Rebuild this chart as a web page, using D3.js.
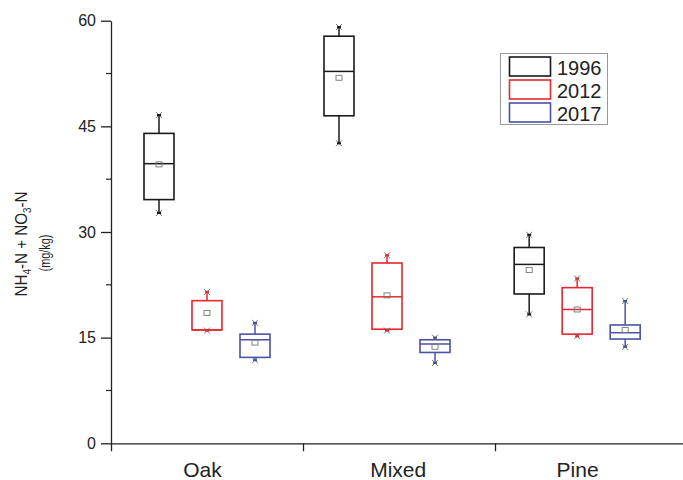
<!DOCTYPE html>
<html>
<head>
<meta charset="utf-8">
<script src="https://cdn.jsdelivr.net/npm/d3@7"></script>
<style>
  html, body { margin: 0; padding: 0; background: #fff; }
  svg { display: block; }
  text { font-family: "Liberation Sans", Arial, sans-serif; fill: #222; }
</style>
</head>
<body>
<svg id="chart" width="683" height="480"></svg>
<script>
// ---- data ----
const categories = ["Oak", "Mixed", "Pine"];
const years = ["1996", "2012", "2017"];
const yTickValues = [0, 15, 30, 45, 60];
// rows: years (1996, 2012, 2017); columns: categories (Oak, Mixed, Pine)
const minVals  = [[32.7, 42.6, 18.3], [16.0, 16.0, 15.2], [11.8, 11.4, 13.7]];
const q1Vals   = [[34.6, 46.5, 21.2], [16.1, 16.2, 15.5], [12.2, 12.9, 14.8]];
const medVals  = [[39.7, 52.8, 25.4], [16.1, 20.8, 19.0], [14.7, 14.1, 15.7]];
const q3Vals   = [[44.0, 57.8, 27.8], [20.25, 25.6, 22.1], [15.5, 14.7, 16.8]];
const maxVals  = [[46.6, 59.1, 29.6], [21.5, 26.7, 23.4], [17.1, 15.0, 20.2]];
const meanVals = [[39.6, 51.9, 24.6], [18.5, 21.0, 19.0], [14.3, 13.7, 16.1]];

// ---- layout (not data) ----
const groupPos = [1.0, 1.9375, 2.928];   // box-group centres on x axis (units)
const labelPos = [0.976, 1.996, 2.93];   // category label centres
const yearOffset = [-0.25, 0, 0.25];
const colors = ["#1a1a1a", "#e8262d", "#4a52a8"];
const boxW = 30;

const svg = d3.select("#chart");

const x = d3.scaleLinear().domain([0.5, 3.5]).range([111, 687]);
const y = d3.scaleLinear().domain([0, 60]).range([443.3, 20.7]);

// ---- axes ----
const yAxis = d3.axisLeft(y).tickValues(yTickValues).tickSize(10).tickPadding(5).tickSizeOuter(0);
const gy = svg.append("g").attr("transform", `translate(${x(0.5)},0)`).call(yAxis);
gy.select(".domain").attr("stroke", "#222").attr("stroke-width", 1.3);
gy.selectAll(".tick line").attr("stroke", "#222").attr("stroke-width", 1.3);
gy.selectAll(".tick text").style("font-size", "16px").attr("fill", "#222");
// minor ticks
gy.selectAll(".minor").data([7.5, 22.5, 37.5, 52.5]).enter().append("line")
  .attr("x1", -5).attr("x2", 0)
  .attr("y1", d => y(d)).attr("y2", d => y(d))
  .attr("stroke", "#222").attr("stroke-width", 1.2);

const xAxis = d3.axisBottom(x).tickValues([0.5, 1.5, 2.5, 3.5]).tickSize(8).tickSizeOuter(0).tickFormat("");
const gx = svg.append("g").attr("transform", `translate(0,${y(0)})`).call(xAxis);
gx.select(".domain").attr("stroke", "#222").attr("stroke-width", 1.3);
gx.selectAll(".tick line").attr("stroke", "#222").attr("stroke-width", 1.3);

// category labels
svg.selectAll(".cat").data(categories).enter().append("text")
  .attr("x", (d, i) => x(labelPos[i]))
  .attr("y", 477)
  .attr("text-anchor", "middle")
  .style("font-size", "21px")
  .text(d => d);

// ---- boxes ----
years.forEach((yr, yi) => {
  const g = svg.append("g");
  const col = colors[yi];
  categories.forEach((cat, ci) => {
    const cx = x(groupPos[ci] + yearOffset[yi]);
    // whiskers
    g.append("line").attr("x1", cx).attr("x2", cx)
      .attr("y1", y(q3Vals[yi][ci])).attr("y2", y(maxVals[yi][ci]))
      .attr("stroke", col).attr("stroke-width", 1.5);
    g.append("line").attr("x1", cx).attr("x2", cx)
      .attr("y1", y(q1Vals[yi][ci])).attr("y2", y(minVals[yi][ci]))
      .attr("stroke", col).attr("stroke-width", 1.5);
    // box
    g.append("rect")
      .attr("x", cx - boxW / 2).attr("width", boxW)
      .attr("y", y(q3Vals[yi][ci]))
      .attr("height", y(q1Vals[yi][ci]) - y(q3Vals[yi][ci]))
      .attr("fill", "none").attr("stroke", col).attr("stroke-width", 1.6);
    // median
    g.append("line")
      .attr("x1", cx - boxW / 2).attr("x2", cx + boxW / 2)
      .attr("y1", y(medVals[yi][ci])).attr("y2", y(medVals[yi][ci]))
      .attr("stroke", col).attr("stroke-width", 1.5);
    // mean marker
    g.append("rect")
      .attr("x", cx - 3).attr("y", y(meanVals[yi][ci]) - 2.5)
      .attr("width", 6).attr("height", 5)
      .attr("fill", "none").attr("stroke", "#777").attr("stroke-width", 0.9);
    // min / max markers (×)
    [minVals[yi][ci], maxVals[yi][ci]].forEach(v => {
      const py = y(v);
      g.append("path")
        .attr("d", `M${cx - 3},${py - 3}L${cx + 3},${py + 3}M${cx - 3},${py + 3}L${cx + 3},${py - 3}`)
        .attr("stroke", "#666").attr("stroke-width", 0.9).attr("fill", "none");
      g.append("line")
        .attr("x1", cx - 2).attr("x2", cx + 2).attr("y1", py).attr("y2", py)
        .attr("stroke", col).attr("stroke-width", 2);
    });
  });
});

// ---- legend ----
const lg = svg.append("g");
lg.append("rect").attr("x", 500.5).attr("y", 53.5).attr("width", 107).attr("height", 71)
  .attr("fill", "#fff").attr("stroke", "#999").attr("stroke-width", 1);
years.forEach((yr, i) => {
  const ry = 57 + i * 23;
  lg.append("rect").attr("x", 509.5).attr("y", ry).attr("width", 41).attr("height", 19)
    .attr("fill", "#fff").attr("stroke", colors[i]).attr("stroke-width", 1.6);
  lg.append("text").attr("x", 557).attr("y", ry + 18)
    .style("font-size", "20px").text(yr);
});

// ---- y title ----
const t1 = svg.append("text")
  .attr("transform", "translate(27,244) rotate(-90)")
  .attr("text-anchor", "middle")
  .attr("textLength", 105)
  .attr("lengthAdjust", "spacingAndGlyphs")
  .style("font-size", "17px");
t1.append("tspan").text("NH");
t1.append("tspan").attr("dy", 4).style("font-size", "11px").text("4");
t1.append("tspan").attr("dy", -4).text("-N + NO");
t1.append("tspan").attr("dy", 4).style("font-size", "11px").text("3");
t1.append("tspan").attr("dy", -4).text("-N");

svg.append("text")
  .attr("transform", "translate(50,253) rotate(-90)")
  .attr("text-anchor", "middle")
  .attr("textLength", 37)
  .attr("lengthAdjust", "spacingAndGlyphs")
  .style("font-size", "14px")
  .text("(mg/kg)");
</script>
</body>
</html>
